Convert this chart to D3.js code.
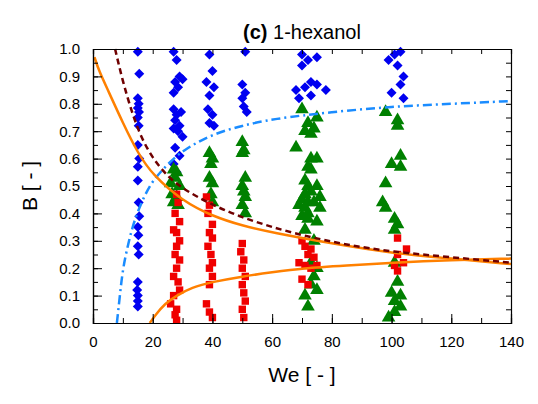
<!DOCTYPE html>
<html><head><meta charset="utf-8">
<script src="https://cdn.jsdelivr.net/npm/d3@7"></script>
<style>body{margin:0;background:#fff}text{font-family:"Liberation Sans",Arial,sans-serif}</style>
</head><body><svg width="538" height="404"></svg>
<script>
// scatter data [We, B]
var blue = [
 [15,0.99],[15.5,0.91],[15,0.82],[15.3,0.80],[15,0.785],[15.4,0.77],[15,0.75],[15.3,0.72],[15,0.65],[15.5,0.60],[15,0.57],[15,0.52],[15.3,0.44],[15.5,0.39],[15,0.35],[15.2,0.32],[15,0.28],[15.3,0.25],[15,0.15],[14.8,0.12],[15,0.10],[15,0.08],[15,0.06],
 [27,0.99],[28,0.96],[29,0.90],[27.5,0.88],[28.5,0.86],[27,0.84],[30,0.89],[27,0.78],[28,0.76],[29.5,0.77],[27.5,0.74],[29,0.72],[27,0.71],[28.5,0.70],[30,0.68],[27.5,0.64],[29,0.61],[27,0.58],[28,0.55],
 [39,0.98],[40,0.92],[38,0.88],[40.5,0.86],[39,0.83],[38.5,0.78],[40,0.76],[39,0.73],[40.5,0.72],
 [51,0.99],[50,0.87],[51,0.84],[50,0.82],[50.5,0.79],[51.5,0.77],
 [70,0.98],[72,0.96],[75,0.97],[70,0.94],[73,0.88],[71,0.86],[75,0.87],[68,0.85],[78,0.85],[69,0.82],[73,0.83],
 [101,0.98],[103,0.99],[99,0.96],[102,0.94],[104,0.90],[103,0.87],[104,0.82],[100,0.84]
];
var green = [
 [27,0.56],[28,0.55],[26,0.51],[27.5,0.53],[29,0.50],[26.5,0.47],[28,0.46],[27,0.44],[28.5,0.43],
 [39,0.62],[40,0.60],[39.5,0.58],[39,0.53],[40,0.51],[39.5,0.47],[40,0.44],
 [50,0.66],[50.5,0.63],[50,0.62],[51,0.53],[50,0.50],[50.5,0.48],[51,0.46],[50,0.43],[51,0.40],
 [70,0.78],[75,0.75],[72,0.73],[74,0.71],[71,0.70],[73,0.69],[68,0.64],[73,0.60],[75,0.60],[72,0.57],[73,0.56],[71,0.52],[72,0.50],[75,0.50],[71,0.47],[73,0.48],[76,0.46],[70,0.45],[72,0.44],[74,0.44],[69,0.43],[71,0.42],[76,0.42],[72,0.40],[70,0.39],[72,0.38],[75,0.37],[71,0.34],[74,0.30],[73,0.22],[75,0.20],[74,0.17],[73,0.14],[75,0.12],[71,0.10],[72,0.06],
 [98,0.77],[102,0.74],[102,0.72],[103,0.61],[100,0.58],[103,0.57],[98,0.51],[97,0.44],[98,0.42],[101,0.38],[102,0.36],[101,0.34],[101,0.22],[102,0.15],[100,0.11],[103,0.10],[101,0.08],[103,0.06],[101,0.04],[99,0.02]
];
var red = [
 [28,0.47],[28.5,0.44],[27.5,0.40],[29,0.37],[27,0.34],[28,0.33],[29,0.30],[28,0.28],[27.5,0.25],[29,0.23],[28,0.20],[27,0.17],[28.5,0.15],[29,0.12],[27,0.10],[26,0.07],[28,0.05],[27.5,0.03],[28,0.01],
 [38,0.46],[39,0.43],[38.5,0.40],[40,0.36],[39,0.33],[40,0.31],[38.5,0.28],[39.5,0.25],[40,0.22],[39,0.20],[40,0.17],[39,0.14],[38,0.07],[39,0.04],[40,0.02],
 [50,0.29],[49.5,0.26],[50.5,0.23],[50,0.20],[51,0.17],[50,0.14],[50.5,0.11],[51,0.08],[50,0.05],[50.5,0.02],
 [70,0.30],[71,0.28],[73,0.27],[72,0.25],[74,0.24],[69,0.22],[71,0.21],[75,0.21],[73,0.20],[70,0.16],[72,0.14],
 [102,0.31],[105,0.27],[102,0.25],[101,0.21],[104,0.22],[102,0.19]
];
// model curves [We, B]
var curveBlue = [[8,0],[9,0.1],[10,0.2],[12,0.3],[14,0.38],[17,0.46],[20,0.52],[25,0.58],[30,0.63],[40,0.69],[50,0.72],[60,0.745],[80,0.77],[100,0.79],[120,0.80],[140,0.81]];
var curveOrangeUp = [[0.5,0.97],[2,0.92],[5,0.85],[10,0.73],[15,0.62],[20,0.54],[30,0.445],[40,0.39],[50,0.355],[60,0.33],[80,0.29],[100,0.255],[120,0.235],[140,0.215]];
var curveOrangeLow = [[19,0],[21,0.03],[24,0.07],[28,0.10],[33,0.13],[40,0.15],[50,0.17],[60,0.185],[70,0.20],[85,0.21],[100,0.22],[120,0.23],[140,0.235]];
var curveDash = [[7.4,1],[10,0.88],[13,0.77],[16,0.68],[20,0.6],[25,0.535],[30,0.49],[40,0.43],[50,0.385],[60,0.35],[70,0.32],[85,0.285],[100,0.26],[120,0.24],[140,0.22]];
var xTicks = [0,20,40,60,80,100,120,140];
var yTicks = [0,0.1,0.2,0.3,0.4,0.5,0.6,0.7,0.8,0.9,1.0];

var svg = d3.select('svg');
var L = 93, R = 511, T = 49, B = 323;
var x = d3.scaleLinear().domain([0,140]).range([L,R]);
var y = d3.scaleLinear().domain([0,1]).range([B,T]);

svg.append('clipPath').attr('id','c').append('rect').attr('x',L-6).attr('y',T-6).attr('width',R-L+12).attr('height',B-T+6);
var pl = svg.append('g').attr('clip-path','url(#c)');

pl.selectAll('.bl').data(blue).enter().append('path')
  .attr('d', d3.symbol().type(d3.symbolSquare).size(50))
  .attr('transform', d => 'translate(' + x(d[0]) + ',' + y(d[1]) + ') rotate(45)')
  .attr('fill', '#0000f0');
pl.selectAll('.gr').data(green).enter().append('path')
  .attr('d', d3.symbol().type(d3.symbolTriangle).size(80))
  .attr('transform', d => 'translate(' + x(d[0]) + ',' + y(d[1]) + ')')
  .attr('fill', '#008000');
pl.selectAll('.rd').data(red).enter().append('path')
  .attr('d', d3.symbol().type(d3.symbolSquare).size(55))
  .attr('transform', d => 'translate(' + x(d[0]) + ',' + y(d[1]) + ')')
  .attr('fill', '#f00000');

var line = d3.line().x(d => x(d[0])).y(d => y(d[1])).curve(d3.curveBasis);
var lines = svg.append('g').attr('clip-path','url(#c)');
lines.append('path').attr('d', line(curveBlue)).attr('fill','none').attr('stroke','#1a8cff').attr('stroke-width',2.5).attr('stroke-dasharray','9,4,2,4');
lines.append('path').attr('d', line(curveOrangeUp)).attr('fill','none').attr('stroke','#ff8000').attr('stroke-width',2.5);
lines.append('path').attr('d', line(curveOrangeLow)).attr('fill','none').attr('stroke','#ff8000').attr('stroke-width',2.5);
lines.append('path').attr('d', line(curveDash)).attr('fill','none').attr('stroke','#700000').attr('stroke-width',2.5).attr('stroke-dasharray','6,4');

// axes with inward ticks
function ax(gen, tr) { return svg.append('g').attr('transform', tr).call(gen); }
ax(d3.axisBottom(x).tickValues(d3.range(0,141,10)).tickSize(-5).tickFormat(''), 'translate(0,' + B + ')');
ax(d3.axisTop(x).tickValues(d3.range(0,141,10)).tickSize(-5).tickFormat(''), 'translate(0,' + T + ')');
ax(d3.axisLeft(y).tickValues(d3.range(0,1.001,0.05)).tickSize(-5).tickFormat(''), 'translate(' + L + ',0)');
ax(d3.axisRight(y).tickValues(d3.range(0,1.001,0.05)).tickSize(-5).tickFormat(''), 'translate(' + R + ',0)');
ax(d3.axisBottom(x).tickValues(xTicks).tickSize(-9).tickPadding(13).tickFormat(d3.format('d')), 'translate(0,' + B + ')');
ax(d3.axisLeft(y).tickValues(yTicks).tickSize(-9).tickPadding(13).tickFormat(d3.format('.1f')), 'translate(' + L + ',0)');
svg.selectAll('.domain').attr('stroke','#000').attr('stroke-width',1.2);
svg.selectAll('.tick line').attr('stroke','#000');
svg.selectAll('.tick text').attr('font-size',15).attr('fill','#000').style('font-family','"Liberation Sans",Arial,sans-serif');

svg.append('text').attr('x', (L+R)/2).attr('y', 382).attr('text-anchor','middle').attr('font-size',21).text('We [ - ]');
svg.append('text').attr('transform','translate(37,' + (T+B)/2 + ') rotate(-90)').attr('text-anchor','middle').attr('font-size',21).text('B [ - ]');
var t = svg.append('text').attr('x', (L+R)/2).attr('y', 39).attr('text-anchor','middle').attr('font-size',20);
t.append('tspan').attr('font-weight','bold').text('(c)');
t.append('tspan').text(' 1-hexanol');
</script></body></html>
